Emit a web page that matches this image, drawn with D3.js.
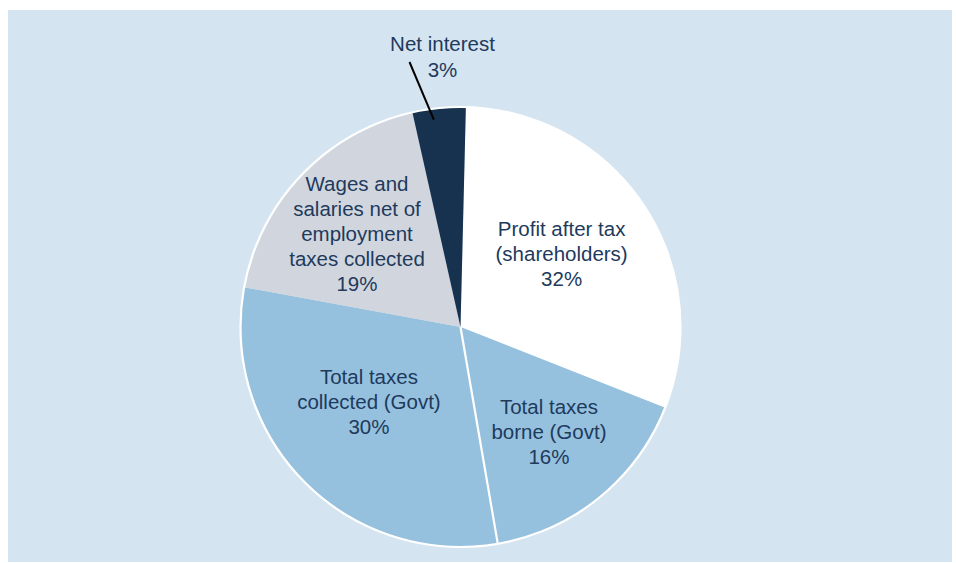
<!DOCTYPE html>
<html>
<head>
<meta charset="utf-8">
<script src="https://cdn.jsdelivr.net/npm/d3@7"></script>
<style>
  html, body { margin: 0; padding: 0; background: #ffffff; }
  svg { display: block; }
  text { font-family: "Liberation Sans", Arial, Helvetica, sans-serif; }
</style>
</head>
<body>
<svg id="chart" width="956" height="563"></svg>
<script>
// ---- data ----
const categories = [
  "Profit after tax (shareholders)",
  "Total taxes borne (Govt)",
  "Total taxes collected (Govt)",
  "Wages and salaries net of employment taxes collected",
  "Net interest"
];
// slice shares as drawn
const values = [30.6, 16.3, 30.6, 18.6, 3.9];
// labels as printed
const labelLines = [
  ["Profit after tax", "(shareholders)", "32%"],
  ["Total taxes", "borne (Govt)", "16%"],
  ["Total taxes", "collected (Govt)", "30%"],
  ["Wages and", "salaries net of", "employment", "taxes collected", "19%"],
  ["Net interest", "3%"]
];

// ---- styles / layout ----
const colors = ["#ffffff", "#95c1df", "#95c1df", "#d1d6de", "#17324f"];
const labelRadius = [120.6, 142.7, 123.2, 134.9, null];
const labelAngleShift = [0.5, 0.8, 2.7, -4.0, 0];   // degrees
const width = 956, height = 563;
const cx = 460.5, cy = 327, R = 220;
const startDeg = 1.4;
const fontSize = 20.5, lineH = 25;
const textColor = "#1e3a5c";

const svg = d3.select("#chart");

// panel background
svg.append("rect")
  .attr("x", 8).attr("y", 10)
  .attr("width", 944).attr("height", 552)
  .attr("fill", "#d4e4f1");

const g = svg.append("g").attr("transform", `translate(${cx},${cy})`);

const start = startDeg * Math.PI / 180;
const pie = d3.pie().sort(null).value(d => d)
  .startAngle(start).endAngle(start + 2 * Math.PI);
const arcs = pie(values);
const arc = d3.arc().innerRadius(0).outerRadius(R);

g.selectAll("path.slice")
  .data(arcs)
  .join("path")
  .attr("class", "slice")
  .attr("d", arc)
  .attr("fill", (d, i) => colors[i]);

// white separator between the two tax slices
const sepAngle = arcs[2].startAngle;
g.append("line")
  .attr("x1", 0).attr("y1", 0)
  .attr("x2", R * Math.sin(sepAngle))
  .attr("y2", -R * Math.cos(sepAngle))
  .attr("stroke", "#ffffff").attr("stroke-width", 2.2);

// white outline
g.append("circle")
  .attr("r", R)
  .attr("fill", "none")
  .attr("stroke", "#ffffff")
  .attr("stroke-width", 2.2);

// labels inside slices
arcs.forEach((a, i) => {
  if (labelRadius[i] == null) return;
  const mid = (a.startAngle + a.endAngle) / 2 + labelAngleShift[i] * Math.PI / 180;
  const x = labelRadius[i] * Math.sin(mid);
  const y = -labelRadius[i] * Math.cos(mid);
  const lines = labelLines[i];
  const t = g.append("text")
    .attr("text-anchor", "middle")
    .attr("fill", textColor)
    .attr("font-size", fontSize);
  const y0 = y - (lines.length - 1) * lineH / 2;
  lines.forEach((ln, k) => {
    t.append("tspan").attr("x", x).attr("y", y0 + k * lineH).text(ln);
  });
});

// outside label for Net interest with leader line
{
  const i = 4;
  const a = arcs[i];
  const mid = (a.startAngle + a.endAngle) / 2 - 0.03;
  const inner = 209;
  const px = inner * Math.sin(mid), py = -inner * Math.cos(mid);
  const lx = 442.5 - cx, ly = 51 - cy; // first baseline
  g.append("line")
    .attr("x1", px).attr("y1", py)
    .attr("x2", lx - 33).attr("y2", ly + 11)
    .attr("stroke", "#000000").attr("stroke-width", 2);
  const t = g.append("text")
    .attr("text-anchor", "middle")
    .attr("fill", textColor)
    .attr("font-size", fontSize);
  labelLines[i].forEach((ln, k) => {
    t.append("tspan").attr("x", lx).attr("y", ly + k * 26).text(ln);
  });
}
</script>
</body>
</html>
